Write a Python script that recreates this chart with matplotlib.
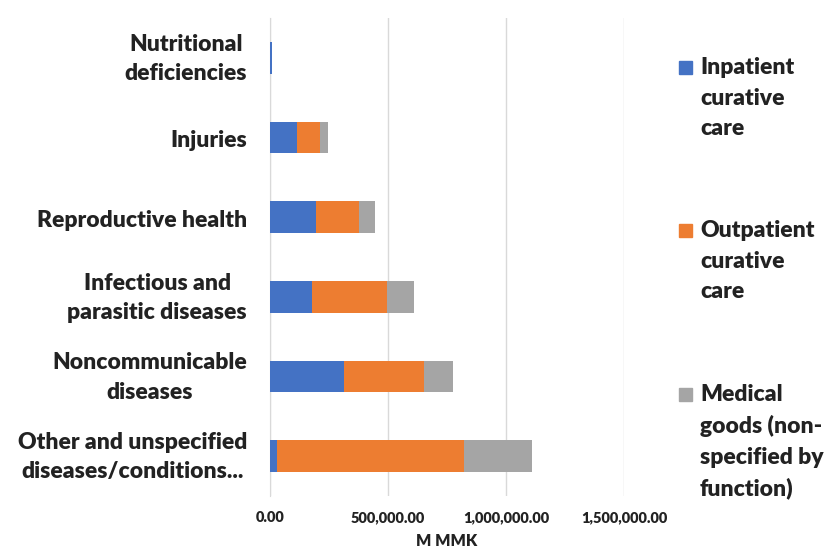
import matplotlib
matplotlib.use("Agg")
import matplotlib.pyplot as plt
from matplotlib.patches import Rectangle
from matplotlib.ticker import FuncFormatter
from matplotlib.transforms import ScaledTranslation

# categories bottom -> top
categories = ["Other and unspecified\ndiseases/conditions...",
              "Noncommunicable\ndiseases",
              "Infectious and\nparasitic diseases",
              "Reproductive health",
              "Injuries",
              "Nutritional\ndeficiencies"]
inpatient = [30000, 314000, 179000, 193000, 114000, 7000]
outpatient = [791000, 340000, 315000, 186000, 96000, 0]
medical = [290000, 121000, 116000, 68000, 34000, 0]
series_names = ["Inpatient\ncurative\ncare",
                "Outpatient\ncurative\ncare",
                "Medical\ngoods (non-\nspecified by\nfunction)"]
colors = ["#4472C4", "#ED7D31", "#A5A5A5"]
xticks = [0, 500000, 1000000, 1500000]

plt.rcParams['font.family'] = ['Lato', 'DejaVu Sans']
txt = "#222222"
wt = 'heavy'

fig = plt.figure(figsize=(8.39, 5.49), dpi=100)
ax = fig.add_axes([270/839, 1-496/549, (624-270)/839, (496-18)/549])

y = list(range(len(categories)))
left2 = [a for a in inpatient]
left3 = [a + b for a, b in zip(inpatient, outpatient)]
ax.barh(y, inpatient, height=0.4, color=colors[0], zorder=3)
ax.barh(y, outpatient, height=0.4, left=left2, color=colors[1], zorder=3)
ax.barh(y, medical, height=0.4, left=left3, color=colors[2], zorder=3)

ax.set_xlim(0, 1500000)
ax.set_ylim(-0.5, len(categories) - 0.5)
ax.set_xticks(xticks)
ax.xaxis.set_major_formatter(FuncFormatter(lambda v, p: f"{v:,.2f}"))
ax.set_yticks(y)
ax.set_yticklabels([])
# category labels as text so they can be nudged a little
for yi, name in zip(y, categories):
    dy = -1 if "\n" in name else -3
    tr = ax.get_yaxis_transform() + ScaledTranslation(-23/100, dy/100, fig.dpi_scale_trans)
    ax.text(0, yi, name, transform=tr, fontsize=16.5, fontweight=wt, color=txt,
            ha='right', va='center', multialignment='center', linespacing=1.5)
for lab in ax.get_xticklabels():
    lab.set_fontsize(10.5)
    lab.set_fontweight(wt)
    lab.set_color(txt)
ax.tick_params(axis='x', length=0, pad=11)
ax.tick_params(axis='y', length=0)
ax.grid(axis='x', color="#D9D9D9", linewidth=1, zorder=0)
for s in ['top', 'right', 'bottom']:
    ax.spines[s].set_visible(False)
ax.spines['left'].set_color("#D9D9D9")
ax.set_xlabel("M MMK", fontsize=11.5, fontweight=wt, color=txt, labelpad=6)

# legend drawn by hand so the marker sits by the first line
legend_tops = [67, 230, 394]
for name, col, ty in zip(series_names, colors, legend_tops):
    fig.add_artist(Rectangle((679/839, 1-(ty+7)/549), 13/839, 13/549,
                             transform=fig.transFigure, color=col))
    fig.text(700/839, 1-(ty-10)/549, name, fontsize=16.5, fontweight=wt,
             color=txt, va='top', ha='left', linespacing=1.56)

fig.savefig("out.png", dpi=100)
